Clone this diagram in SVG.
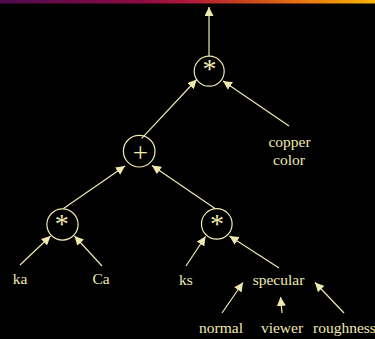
<svg xmlns="http://www.w3.org/2000/svg" width="375" height="339" viewBox="0 0 375 339">
  <defs>
    <linearGradient id="bar" x1="0" y1="0" x2="1" y2="0">
      <stop offset="0" stop-color="#4a0c4c"/>
      <stop offset="0.36" stop-color="#8c0a44"/>
      <stop offset="0.5" stop-color="#b0183a"/>
      <stop offset="0.64" stop-color="#c8401e"/>
      <stop offset="0.8" stop-color="#e87412"/>
      <stop offset="1" stop-color="#f8b400"/>
    </linearGradient>
    <marker id="ah" viewBox="0 0 10 10" refX="10" refY="5" markerWidth="9" markerHeight="9" markerUnits="userSpaceOnUse" orient="auto">
      <path d="M0,0 L10,5 L0,10 z" fill="#efe9b0"/>
    </marker>
  </defs>
  <style>
    .op { fill: none; stroke: #efe9b0; stroke-width: 1.2; }
    .sym { font-family: "Liberation Serif", "Times New Roman", serif; fill: #efe9b0; text-anchor: middle; }
    .lbl { font-family: "Liberation Serif", "Times New Roman", serif; font-size: 15.5px; fill: #efe9b0; text-anchor: middle; }
    .edge { stroke: #efe9b0; stroke-width: 1.2; fill: none; marker-end: url(#ah); }
  </style>
  <rect x="0" y="0" width="375" height="339" fill="#000"/>
  <rect x="0" y="0" width="375" height="3.5" fill="url(#bar)"/>

  <g id="connectors">
    <line class="edge" x1="209" y1="56" x2="209" y2="7"/>
    <line class="edge" x1="141.7" y1="138.3" x2="196.7" y2="79.5"/>
    <line class="edge" x1="289" y1="126" x2="223" y2="81"/>
    <line class="edge" x1="63.5" y1="208.5" x2="125" y2="166"/>
    <line class="edge" x1="215" y1="208.5" x2="152" y2="165.5"/>
    <line class="edge" x1="20" y1="265" x2="50.5" y2="236"/>
    <line class="edge" x1="102" y1="266" x2="74.5" y2="236"/>
    <line class="edge" x1="186" y1="266" x2="205.5" y2="236.5"/>
    <line class="edge" x1="279" y1="268" x2="229.5" y2="236"/>
    <line class="edge" x1="222" y1="313" x2="243" y2="282.5"/>
    <line class="edge" x1="282" y1="313" x2="280.5" y2="297"/>
    <line class="edge" x1="344" y1="313" x2="315" y2="282.5"/>
  </g>

  <g id="mul-top">
    <circle class="op" cx="209.2" cy="71.2" r="15"/>
    <text class="sym" x="209.5" y="78.4" font-size="28">*</text>
  </g>
  <g id="add">
    <circle class="op" cx="139.2" cy="151.2" r="15.8"/>
    <text class="sym" x="140.3" y="162.3" font-size="27">+</text>
  </g>
  <g id="mul-left">
    <circle class="op" cx="62.5" cy="224.5" r="15.6"/>
    <text class="sym" x="61.8" y="233.2" font-size="28">*</text>
  </g>
  <g id="mul-right">
    <circle class="op" cx="216.8" cy="223.9" r="15.3"/>
    <text class="sym" x="217" y="232.7" font-size="28">*</text>
  </g>
  <g id="copper-color">
    <text class="lbl" x="289.5" y="147">copper</text>
    <text class="lbl" x="289" y="165">color</text>
  </g>
  <g id="ka"><text class="lbl" x="20" y="284">ka</text></g>
  <g id="Ca"><text class="lbl" x="101" y="284">Ca</text></g>
  <g id="ks"><text class="lbl" x="186" y="285">ks</text></g>
  <g id="specular"><text class="lbl" x="278.5" y="285">specular</text></g>
  <g id="normal"><text class="lbl" x="221" y="333">normal</text></g>
  <g id="viewer"><text class="lbl" x="282" y="333">viewer</text></g>
  <g id="roughness"><text class="lbl" x="313" y="333" style="text-anchor:start">roughness</text></g>
</svg>
